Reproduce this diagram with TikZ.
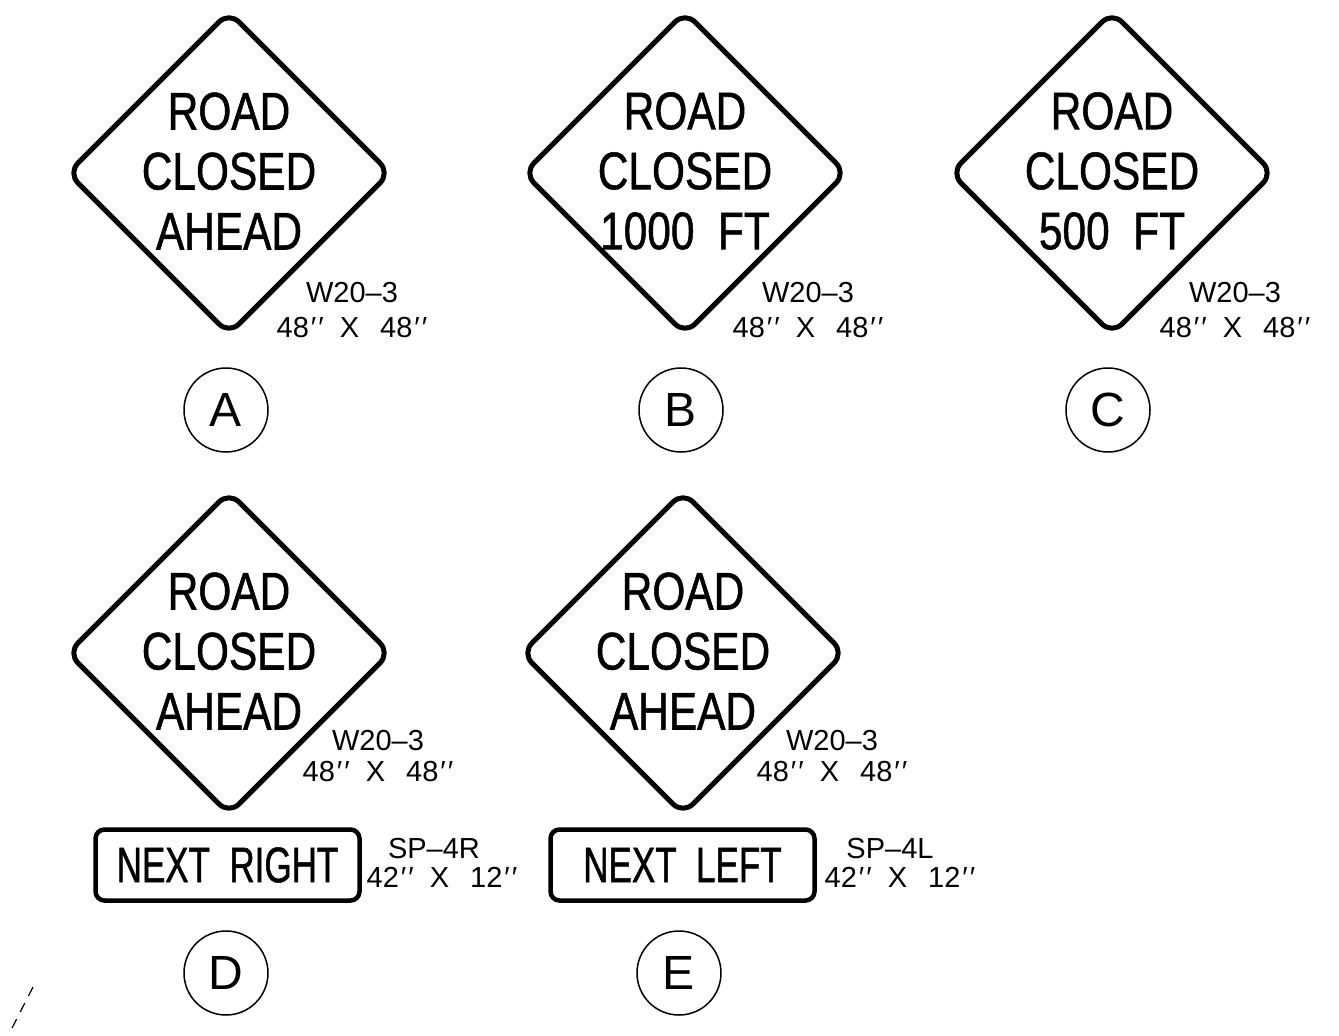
\documentclass[tikz,border=0pt]{standalone}
\usepackage{fontspec}
\setmainfont{Liberation Sans}
\newfontfamily\signfont[FakeStretch=0.8, FakeBold=1]{Liberation Sans}
\newfontfamily\panelfont[FakeStretch=0.7, FakeBold=1]{Liberation Sans}
\usetikzlibrary{calc}

\tikzset{
  signedge/.style={line width=5pt, rounded corners=14pt, line join=round},
  legend/.style={font=\signfont\fontsize{53}{60}\selectfont, align=center, inner sep=0pt},
  panel/.style={draw, line width=4.5pt, rounded corners=9pt, minimum width=264pt, minimum height=71pt, inner sep=0pt, font=\panelfont\fontsize{50}{60}\selectfont},
  sizetext/.style={font=\fontsize{29}{35}\selectfont, align=center, inner sep=0pt},
  tag/.style={draw, circle, line width=1.5pt, minimum size=84pt, inner sep=0pt, font=\fontsize{48}{48}\selectfont},
}
\newcommand{\signdiamond}[1]{\draw[signedge] ($(#1)+(0,-161)$) -- ($(#1)+(161,0)$) -- ($(#1)+(0,161)$) -- ($(#1)+(-161,0)$) -- cycle;}
\newcommand{\inch}{\kern2pt′\kern2pt′}

\begin{document}
\begin{tikzpicture}[x=1pt, y=-1pt]
\useasboundingbox (0,0) rectangle (1339,1036);

\coordinate (A) at (229,173);
\coordinate (B) at (685,173);
\coordinate (C) at (1112,173);
\coordinate (D) at (229,653);
\coordinate (E) at (683,653);

% warning signs
\signdiamond{A}
\signdiamond{B}
\signdiamond{C}
\signdiamond{D}
\signdiamond{E}

\node[legend] (legA) at ($(A)+(0,-2)$) {ROAD\\CLOSED\\AHEAD};
\node[legend] (legB) at ($(B)+(0,-2)$) {ROAD\\CLOSED\\1000\ \ FT};
\node[legend] (legC) at ($(C)+(0,-2)$) {ROAD\\CLOSED\\500\ \ FT};
\node[legend] (legD) at ($(D)+(0,-2)$) {ROAD\\CLOSED\\AHEAD};
\node[legend] (legE) at ($(E)+(0,-2)$) {ROAD\\CLOSED\\AHEAD};

\node[sizetext] (sizeA) at ($(A)+(123,137)$) {W20–3\\48\inch\ \ X\ \ \,48\inch};
\node[sizetext] (sizeB) at ($(B)+(123,137)$) {W20–3\\48\inch\ \ X\ \ \,48\inch};
\node[sizetext] (sizeC) at ($(C)+(123,137)$) {W20–3\\48\inch\ \ X\ \ \,48\inch};
\node[sizetext, font=\fontsize{29}{31}\selectfont] (sizeD) at ($(D)+(149,103)$) {W20–3\\48\inch\ \ X\ \ \,48\inch};
\node[sizetext, font=\fontsize{29}{31}\selectfont] (sizeE) at ($(E)+(149,103)$) {W20–3\\48\inch\ \ X\ \ \,48\inch};

% supplemental plaques
\node[panel] (panD) at (227.5,865) {NEXT\ \ RIGHT};
\node[panel] (panE) at (682.5,865) {NEXT\ \ LEFT};

\node[sizetext] (spD) at ($(panD)+(206.5,-16)$) {SP–4R};
\node[sizetext] (dimD) at ($(panD)+(214.5,12)$) {42\inch\ \ X\ \ \,12\inch};
\node[sizetext] (spE) at ($(panE)+(207.5,-16)$) {SP–4L};
\node[sizetext] (dimE) at ($(panE)+(217.5,12)$) {42\inch\ \ X\ \ \,12\inch};

% letters
\node[tag] (tagA) at (226,410) {A};
\node[tag] (tagB) at (681,410) {B};
\node[tag] (tagC) at (1108,410) {C};
\node[tag] (tagD) at (226,973) {D};
\node[tag] (tagE) at (679,973) {E};

\coordinate (cut1) at (33,987);
\coordinate (cut2) at (10,1032);
\draw[line width=1.2pt, dash pattern=on 10pt off 8pt] (cut1) -- (cut2);

\end{tikzpicture}
\end{document}
